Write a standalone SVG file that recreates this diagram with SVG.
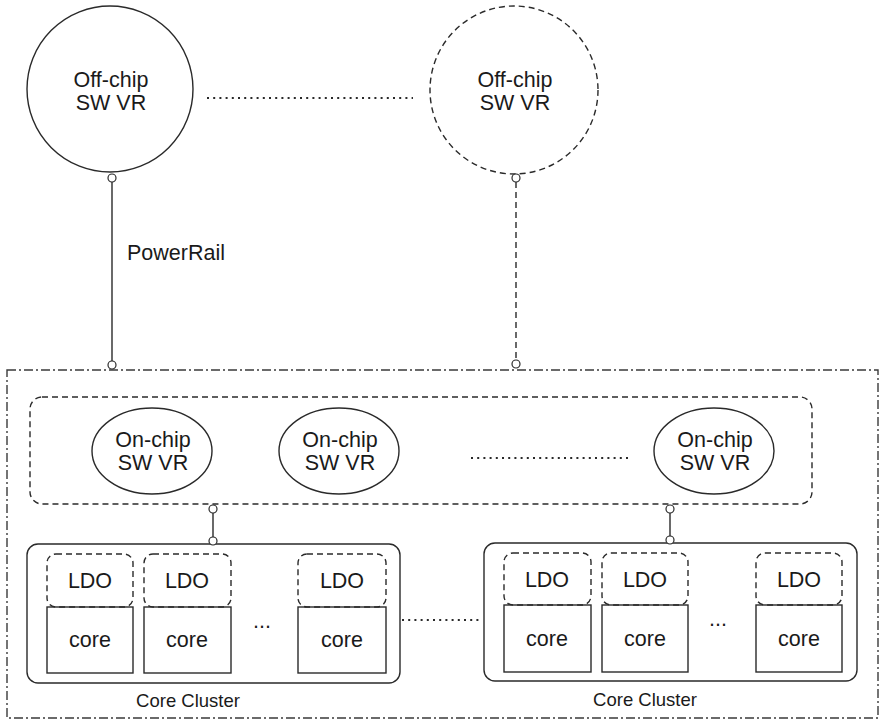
<svg xmlns="http://www.w3.org/2000/svg" width="880" height="721" viewBox="0 0 880 721">
<style>
.s{fill:none;stroke:#2a2a2a;stroke-width:1.4}
.d{fill:none;stroke:#2a2a2a;stroke-width:1.4;stroke-dasharray:6 4}
.dd{fill:none;stroke:#3a3a3a;stroke-width:1.4;stroke-dasharray:9 3 2 3}
.dot{fill:none;stroke:#2a2a2a;stroke-width:2;stroke-dasharray:2 4.2}
.p{fill:#fff;stroke:#2a2a2a;stroke-width:1.2}
text{font-family:"Liberation Sans",Arial,sans-serif;fill:#1a1a1a;text-anchor:middle}
.t{font-size:21.5px}
.c{font-size:18.5px}
</style>
<rect width="880" height="721" fill="#fff"/>
<g id="chip-boundary"><rect class="dd" x="7" y="370" width="871" height="348"/></g>
<g id="offchip1"><circle class="s" cx="110" cy="89" r="83"/><text class="t" x="111" y="87">Off-chip</text><text class="t" x="111" y="110">SW VR</text></g>
<g id="offchip2"><circle class="d" cx="514" cy="90" r="84"/><text class="t" x="515" y="87">Off-chip</text><text class="t" x="515" y="110">SW VR</text></g>
<g id="onchip-group"><rect class="d" x="30" y="397" width="782" height="107" rx="12"/></g>
<g id="onchip1"><ellipse class="s" cx="152" cy="451" rx="60" ry="43"/><text class="t" x="153" y="447">On-chip</text><text class="t" x="153" y="470">SW VR</text></g>
<g id="onchip2"><ellipse class="s" cx="339" cy="451" rx="60" ry="43"/><text class="t" x="340" y="447">On-chip</text><text class="t" x="340" y="470">SW VR</text></g>
<g id="onchip3"><ellipse class="s" cx="714" cy="451" rx="60" ry="43"/><text class="t" x="715" y="447">On-chip</text><text class="t" x="715" y="470">SW VR</text></g>
<g id="cluster1">
<rect class="s" x="27" y="544" width="373" height="139" rx="11"/>
<rect class="d" x="47" y="554" width="86" height="53" rx="9"/><text class="t" x="90" y="588">LDO</text>
<rect class="s" x="47" y="607" width="86" height="66"/><text class="t" x="90" y="647">core</text>
<rect class="d" x="144" y="554" width="87" height="53" rx="9"/><text class="t" x="187" y="588">LDO</text>
<rect class="s" x="144" y="607" width="87" height="66"/><text class="t" x="187" y="647">core</text>
<text class="t" x="262" y="628">...</text>
<rect class="d" x="298" y="554" width="88" height="53" rx="9"/><text class="t" x="342" y="588">LDO</text>
<rect class="s" x="298" y="607" width="88" height="66"/><text class="t" x="342" y="647">core</text>
<text class="c" x="188" y="707">Core Cluster</text>
</g>
<g id="cluster2">
<rect class="s" x="484" y="543" width="373" height="138" rx="11"/>
<rect class="d" x="504" y="553" width="87" height="52" rx="9"/><text class="t" x="547" y="587">LDO</text>
<rect class="s" x="504" y="605" width="87" height="67"/><text class="t" x="547" y="646">core</text>
<rect class="d" x="602" y="553" width="86" height="52" rx="9"/><text class="t" x="645" y="587">LDO</text>
<rect class="s" x="602" y="605" width="86" height="67"/><text class="t" x="645" y="646">core</text>
<text class="t" x="718" y="626">...</text>
<rect class="d" x="756" y="553" width="86" height="52" rx="9"/><text class="t" x="799" y="587">LDO</text>
<rect class="s" x="756" y="605" width="86" height="67"/><text class="t" x="799" y="646">core</text>
<text class="c" x="645" y="706">Core Cluster</text>
</g>
<g id="connectors">
<line class="dot" x1="207" y1="98" x2="413" y2="98"/>
<line class="dot" x1="471" y1="458" x2="630" y2="458"/>
<line class="dot" x1="402" y1="620" x2="481" y2="620"/>
<line class="s" x1="112" y1="182" x2="112" y2="361"/>
<line class="d" x1="516" y1="182" x2="516" y2="359"/>
<line class="s" x1="213" y1="513" x2="213" y2="537"/>
<line class="s" x1="670" y1="513" x2="670" y2="537"/>
<circle class="p" cx="112" cy="178" r="4"/>
<circle class="p" cx="112" cy="365" r="4"/>
<circle class="p" cx="516" cy="178" r="4"/>
<circle class="p" cx="516" cy="364" r="4"/>
<circle class="p" cx="213" cy="509" r="4"/>
<circle class="p" cx="213" cy="541" r="4"/>
<circle class="p" cx="670" cy="509" r="4"/>
<circle class="p" cx="670" cy="540" r="4"/>
</g>
<text x="176" y="260" class="t">PowerRail</text>
</svg>
